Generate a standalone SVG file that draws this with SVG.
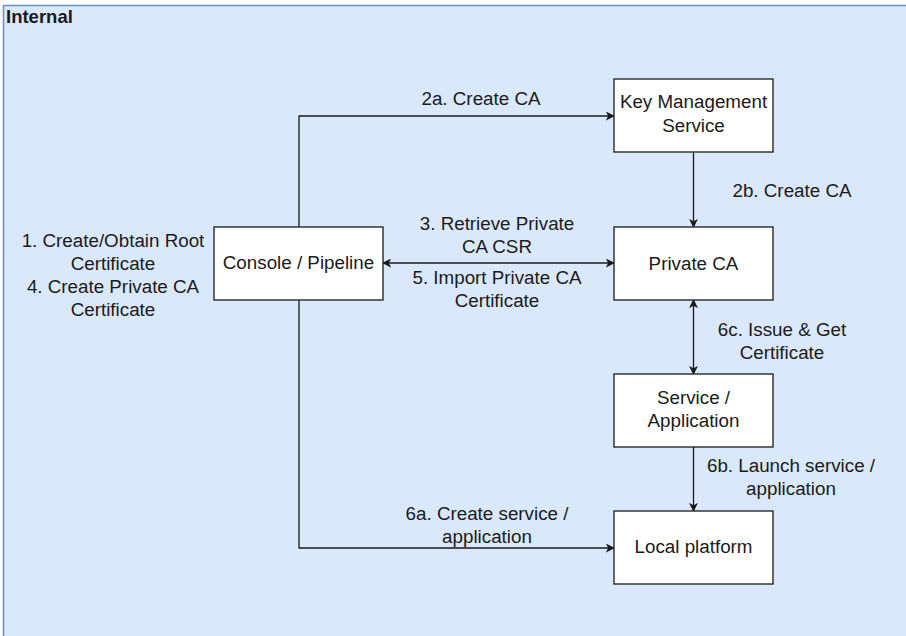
<svg xmlns="http://www.w3.org/2000/svg" width="906" height="636" viewBox="0 0 906 636">
  <defs>
    <style>
      .box { fill: #ffffff; stroke: #1a1a1a; stroke-width: 1.3; }
      .lbl { font-family: "Liberation Sans", Arial, Helvetica, sans-serif; font-size: 18.8px; fill: #1a1a1a; text-anchor: middle; }
      .edge { fill: none; stroke: #1a1a1a; stroke-width: 1.3; }
    </style>
    <marker id="arrowEnd" viewBox="0 0 10 10" refX="9" refY="5" markerWidth="9" markerHeight="9" markerUnits="userSpaceOnUse" orient="auto">
      <path d="M0,0 L10,5 L0,10 L2.5,5 Z" fill="#1a1a1a"/>
    </marker>
    <marker id="arrowStart" viewBox="0 0 10 10" refX="1" refY="5" markerWidth="9" markerHeight="9" markerUnits="userSpaceOnUse" orient="auto">
      <path d="M10,0 L0,5 L10,10 L7.5,5 Z" fill="#1a1a1a"/>
    </marker>
  </defs>

  <!-- page background -->
  <rect x="0" y="0" width="906" height="636" fill="#ffffff"/>

  <!-- Internal zone -->
  <g id="zone-internal">
    <rect x="3.5" y="5.5" width="920" height="650" fill="#dae8fc" stroke="#6c8ebf" stroke-width="1.5"/>
    <text x="6" y="23" font-family="'Liberation Sans', Arial, sans-serif" font-size="18.5px" font-weight="bold" fill="#1a1a1a">Internal</text>
  </g>

  <!-- connectors -->
  <g id="connectors">
    <path class="edge" d="M299,227 L299,116 L614,116" marker-end="url(#arrowEnd)"/>
    <path class="edge" d="M693.5,152 L693.5,227" marker-end="url(#arrowEnd)"/>
    <path class="edge" d="M383,263 L614,263" marker-start="url(#arrowStart)" marker-end="url(#arrowEnd)"/>
    <path class="edge" d="M693.5,300 L693.5,374" marker-start="url(#arrowStart)" marker-end="url(#arrowEnd)"/>
    <path class="edge" d="M693.5,447 L693.5,511" marker-end="url(#arrowEnd)"/>
    <path class="edge" d="M299,300 L299,548 L614,548" marker-end="url(#arrowEnd)"/>

    <text class="lbl" x="481" y="105">2a. Create CA</text>
    <text class="lbl" x="792" y="197">2b. Create CA</text>
    <text class="lbl" x="497" y="230">3. Retrieve Private</text>
    <text class="lbl" x="497" y="253">CA CSR</text>
    <text class="lbl" x="497" y="284">5. Import Private CA</text>
    <text class="lbl" x="497" y="307">Certificate</text>
    <text class="lbl" x="782" y="336">6c. Issue &amp; Get</text>
    <text class="lbl" x="782" y="359">Certificate</text>
    <text class="lbl" x="791" y="472">6b. Launch service /</text>
    <text class="lbl" x="791" y="495">application</text>
    <text class="lbl" x="487" y="520">6a. Create service /</text>
    <text class="lbl" x="487" y="543">application</text>
  </g>

  <!-- side note next to Console / Pipeline -->
  <g id="note-root-cert">
    <text class="lbl" x="113" y="247">1. Create/Obtain Root</text>
    <text class="lbl" x="113" y="270">Certificate</text>
    <text class="lbl" x="113" y="293">4. Create Private CA</text>
    <text class="lbl" x="113" y="316">Certificate</text>
  </g>

  <g id="node-console">
    <rect class="box" x="214" y="227" width="169" height="73"/>
    <text class="lbl" x="298.5" y="269">Console / Pipeline</text>
  </g>

  <g id="node-kms">
    <rect class="box" x="614" y="79" width="159" height="73"/>
    <text class="lbl" x="693.5" y="108">Key Management</text>
    <text class="lbl" x="693.5" y="132">Service</text>
  </g>

  <g id="node-private-ca">
    <rect class="box" x="614" y="227" width="159" height="73"/>
    <text class="lbl" x="693.5" y="270">Private CA</text>
  </g>

  <g id="node-service">
    <rect class="box" x="614" y="374" width="159" height="73"/>
    <text class="lbl" x="693.5" y="404">Service /</text>
    <text class="lbl" x="693.5" y="427">Application</text>
  </g>

  <g id="node-local-platform">
    <rect class="box" x="614" y="511" width="159" height="73"/>
    <text class="lbl" x="693.5" y="553">Local platform</text>
  </g>
</svg>
